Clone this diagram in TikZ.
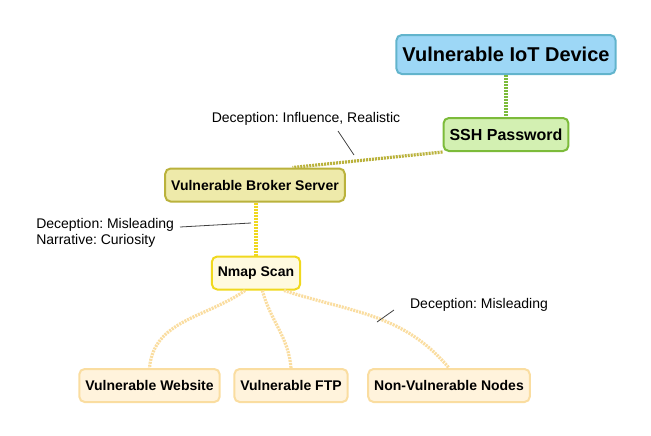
\documentclass[tikz,border=0pt]{standalone}
\usepackage{fontspec}
\setmainfont{Liberation Sans}
\usetikzlibrary{positioning}
\frenchspacing

\definecolor{iotfill}{HTML}{9DD7F6}
\definecolor{iotline}{HTML}{62B4CC}
\definecolor{sshfill}{HTML}{D3F0B2}
\definecolor{sshline}{HTML}{7CBB3A}
\definecolor{brkfill}{HTML}{EEEAAA}
\definecolor{brkline}{HTML}{BAB23C}
\definecolor{nmapfill}{HTML}{FFFADF}
\definecolor{nmapline}{HTML}{F0D81E}
\definecolor{leaffill}{HTML}{FFF3DC}
\definecolor{leafline}{HTML}{FADDA0}

\begin{document}
\begin{tikzpicture}[x=0.75pt, y=-0.75pt,
  box/.style={draw, rounded corners=4pt, line width=1.5pt, align=center, inner xsep=4.5pt, inner ysep=0pt, minimum height=24.75pt, font=\fontsize{10.5}{12}\selectfont\bfseries},
  link/.style={line width=2.4pt, dash pattern=on 1.5pt off 0.75pt},
  note/.style={font=\fontsize{10.5}{12}\selectfont, inner sep=0pt},
  pointer/.style={draw=black!75, line width=0.6pt}]
\useasboundingbox (0,0) rectangle (651,436);
\node[box, fill=iotfill, draw=iotline, minimum height=29.25pt, font=\fontsize{15}{18}\selectfont\bfseries] (iot) at (506,54.5) {Vulnerable IoT Device};
\node[box, fill=sshfill, draw=sshline, font=\fontsize{12}{14}\selectfont\bfseries] (ssh) at (506,134.5) {SSH Password};
\node[box, fill=brkfill, draw=brkline] (broker) at (255,185) {Vulnerable Broker Server};
\node[box, fill=nmapfill, draw=nmapline] (nmap) at (256,273) {Nmap Scan};
\node[box, fill=leaffill, draw=leafline] (web) at (149.5,385.5) {Vulnerable Website};
\node[box, fill=leaffill, draw=leafline] (ftp) at (291,385.5) {Vulnerable FTP};
\node[box, fill=leaffill, draw=leafline] (other) at (449,385.5) {Non-Vulnerable Nodes};
% connectors
\draw[link, draw=sshline] (iot) -- (ssh);
\draw[link, draw=brkline] (ssh.south west) -- (broker.25);
\draw[link, draw=nmapline] (broker.south -| nmap) -- (nmap);
\draw[link, draw=leafline] (nmap.238) to[out=-145, in=85] (web.north);
\draw[link, draw=leafline] (nmap.290) to[out=-75, in=95] (ftp.north);
\draw[link, draw=leafline] (nmap.328) to[out=-18, in=130] (other.north);
% labels
\node[note] (lblA) at (306,119) {Deception: Influence, Realistic};
\node[note, anchor=west, align=left] (lblB) at (36,233) {Deception: Misleading\\Narrative: Curiosity};
\node[note] (lblC) at (479,305) {Deception: Misleading};
\coordinate (tA) at (338,131);
\coordinate (hA) at (354,155);
\coordinate (tB) at (180,227);
\coordinate (hB) at (251,223);
\coordinate (tC) at (394,310);
\coordinate (hC) at (377,322);
\draw[pointer] (tA) -- (hA);
\draw[pointer] (tB) -- (hB);
\draw[pointer] (tC) -- (hC);
\end{tikzpicture}
\end{document}
